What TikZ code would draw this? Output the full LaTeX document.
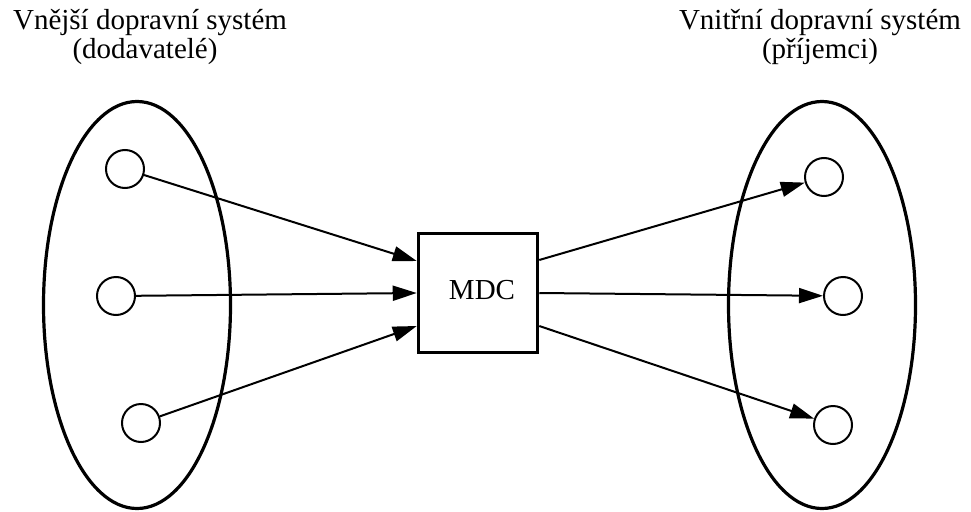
\documentclass[tikz,border=0pt]{standalone}
\usepackage{fontspec}
\setmainfont{Liberation Serif}
\usetikzlibrary{arrows.meta,calc}
\begin{document}
\begin{tikzpicture}[x=1pt,y=-1pt,
  lbl/.style={font=\fontsize{29}{30}\selectfont, inner sep=0pt, anchor=base},
  dot/.style={circle, draw, line width=2pt, minimum size=38pt, inner sep=0pt},
  flow/.style={line width=2pt, -{Triangle[length=24pt,width=15pt]}},
  group/.style={line width=3.2pt},
  center/.style={draw, line width=3.5pt, minimum size=119pt, inner sep=0pt}]
\useasboundingbox (0,0) rectangle (971,511);
% groups
\draw[group] (137,305) ellipse [x radius=93.5pt, y radius=203.5pt];
\draw[group] (822,305) ellipse [x radius=93.5pt, y radius=203.5pt];
% headings
\node[lbl] (t1a) at (150,30) {Vnější dopravní systém};
\node[lbl] (t1b) at (145,59) {(dodavatelé)};
\node[lbl] (t2a) at (820,30) {Vnitřní dopravní systém};
\node[lbl] (t2b) at (820,59) {(příjemci)};
% members
\node[dot] (s1) at (125,169) {};
\node[dot] (s2) at (116,296) {};
\node[dot] (s3) at (141,423) {};
\node[dot] (r1) at (824,177) {};
\node[dot] (r2) at (843,296) {};
\node[dot] (r3) at (833,425) {};
% centre
\node[center] (mdc) at (478,293) {};
\node[lbl] (mdctext) at (482,299) {MDC};
% flows
\draw[flow] (s1) -- ($(mdc.west)+(0,-32)$);
\draw[flow] (s2) -- (mdc.west);
\draw[flow] (s3) -- ($(mdc.west)+(0,33)$);
\draw[flow] ($(mdc.east)+(0,-33)$) -- (r1);
\draw[flow] (mdc.east) -- (r2);
\draw[flow] ($(mdc.east)+(0,33)$) -- (r3);
\end{tikzpicture}
\end{document}
